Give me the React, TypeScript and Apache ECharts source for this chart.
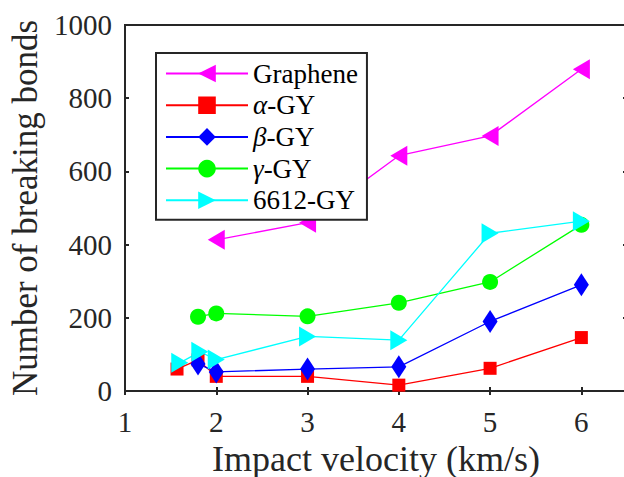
import React, { useEffect, useRef } from "react";
import * as echarts from "echarts";

const seriesNames = ["Graphene", "α-GY", "β-GY", "γ-GY", "6612-GY"];
const grapheneX = [2, 3, 4, 5, 6];
const grapheneY = [413, 460, 643, 697, 879];
const alphaX = [1.57, 1.8, 2, 3, 4, 5, 6];
const alphaY = [60, 85, 40, 40, 16, 62, 146];
const betaX = [1.8, 2, 3, 4, 5, 6];
const betaY = [74, 52, 60, 66, 190, 290];
const gammaX = [1.8, 2, 3, 4, 5, 6];
const gammaY = [203, 212, 204, 241, 298, 454];
const gy6612X = [1.6, 1.82, 2, 3, 4, 5, 6];
const gy6612Y = [77, 107, 86, 149, 139, 431, 464];

const xTicks = { min: 1, max: 6.5, interval: 1 };
const yTicks = { min: 0, max: 1000, interval: 200 };

const pair = (xs: number[], ys: number[]) => xs.map((x, i) => [x, ys[i]]);

const FONT = '"Liberation Serif", "Times New Roman", serif';
const AXIS = "#262626";

export default function App() {
  const ref = useRef<HTMLDivElement>(null);
  useEffect(() => {
    if (!ref.current) return;
    const chart = echarts.init(ref.current, null, { renderer: "svg" });
    const mk = (
      name: string,
      data: number[][],
      color: string,
      symbol: string,
      size: number | number[],
      rotate = 0
    ) => ({
      name,
      type: "line",
      data,
      symbol,
      symbolSize: size,
      symbolRotate: rotate,
      lineStyle: { color, width: 1.3 },
      itemStyle: { color },
      color,
      z: 3,
    });
    const greek = (n: string) => {
      if (n.length > 1 && "αβγ".includes(n[0])) return "{i|" + n[0] + "}" + n.slice(1);
      return n;
    };
    const tickStyle = { show: true, inside: true, length: 4, lineStyle: { color: AXIS, width: 2 } };
    const lineStyle = { show: true, lineStyle: { color: AXIS, width: 2 } };
    chart.setOption({
      animation: false,
      backgroundColor: "#ffffff",
      textStyle: { fontFamily: FONT },
      grid: {
        left: 125,
        top: 25,
        right: -3,
        bottom: 86,
        containLabel: false,
        outerBoundsMode: "none",
        show: true,
        borderColor: AXIS,
        borderWidth: 2,
        backgroundColor: "transparent",
      },
      legend: {
        orient: "vertical",
        left: 156,
        top: 53,
        padding: [7, 9, 6, 9],
        backgroundColor: "#ffffff",
        borderColor: AXIS,
        borderWidth: 2,
        itemWidth: 82,
        itemHeight: 22,
        itemGap: 4.7,
        data: seriesNames,
        formatter: (n: string) => greek(n),
        textStyle: {
          fontFamily: FONT,
          fontSize: 27,
          color: "#000",
          lineHeight: 27,
          rich: {
            i: { fontFamily: FONT, fontStyle: "italic", fontSize: 27, color: "#000" },
          },
        },
      },
      xAxis: [
        {
          type: "value",
          min: xTicks.min,
          max: xTicks.max,
          interval: xTicks.interval,
          position: "bottom",
          name: "Impact velocity (km/s)",
          nameLocation: "middle",
          nameGap: 39,
          nameTextStyle: { fontFamily: FONT, fontSize: 36, lineHeight: 30, color: AXIS },
          axisLine: lineStyle,
          axisTick: tickStyle,
          axisLabel: {
            fontFamily: FONT,
            fontSize: 29,
            color: AXIS,
            margin: 16,
            showMaxLabel: false,
            formatter: (v: number) => String(v),
          },
          splitLine: { show: false },
        },
        {
          type: "value",
          min: xTicks.min,
          max: xTicks.max,
          interval: xTicks.interval,
          position: "top",
          axisLine: lineStyle,
          axisTick: tickStyle,
          axisLabel: { show: false },
          splitLine: { show: false },
        },
      ],
      yAxis: [
        {
          type: "value",
          min: yTicks.min,
          max: yTicks.max,
          interval: yTicks.interval,
          position: "left",
          name: "Number of breaking bonds",
          nameLocation: "middle",
          nameGap: 80,
          nameTextStyle: { fontFamily: FONT, fontSize: 35, color: AXIS },
          axisLine: lineStyle,
          axisTick: tickStyle,
          axisLabel: {
            fontFamily: FONT,
            fontSize: 29,
            color: AXIS,
            margin: 13,
            formatter: (v: number) => String(v),
          },
          splitLine: { show: false },
        },
        {
          type: "value",
          min: yTicks.min,
          max: yTicks.max,
          interval: yTicks.interval,
          position: "right",
          axisLine: lineStyle,
          axisTick: tickStyle,
          axisLabel: { show: false },
          splitLine: { show: false },
        },
      ],
      series: [
        mk(seriesNames[0], pair(grapheneX, grapheneY), "#ff00ff", "triangle", [20, 17], 90),
        mk(seriesNames[1], pair(alphaX, alphaY), "#ff0000", "rect", 13),
        mk(seriesNames[2], pair(betaX, betaY), "#0000ff", "diamond", [15, 23]),
        mk(seriesNames[3], pair(gammaX, gammaY), "#00ff00", "circle", 16),
        mk(seriesNames[4], pair(gy6612X, gy6612Y), "#00ffff", "triangle", [20, 17], -90),
      ],
    });
    return () => chart.dispose();
  }, []);
  return (
    <div
      ref={ref}
      style={{ position: "absolute", left: 0, top: 0, width: 624, height: 477 }}
    />
  );
}
